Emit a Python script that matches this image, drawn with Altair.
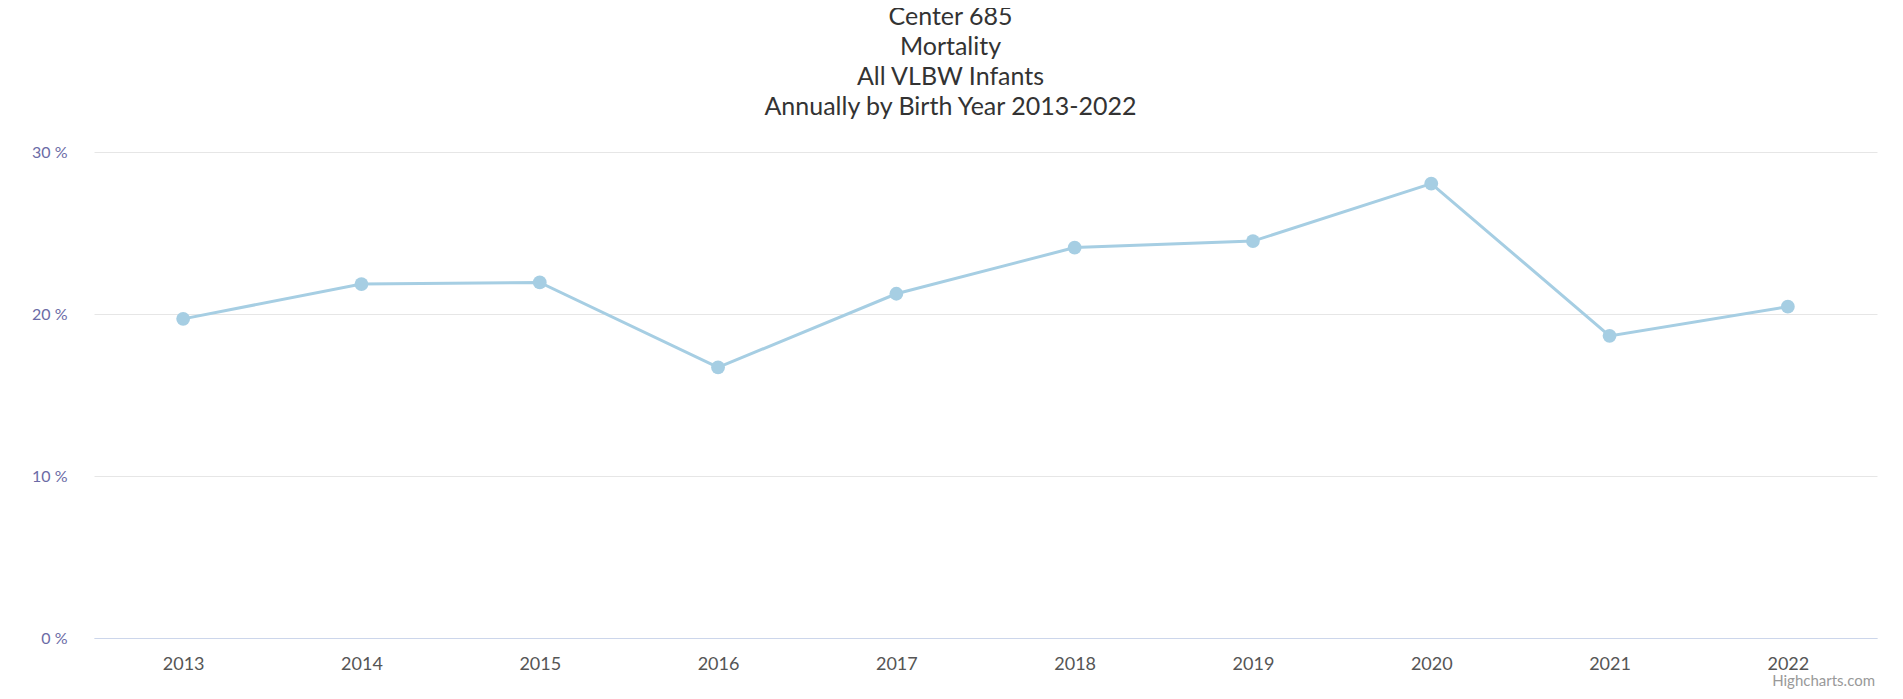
import altair as alt
import pandas as pd

years = ["2013", "2014", "2015", "2016", "2017", "2018", "2019", "2020", "2021", "2022"]
mortality = [19.7, 21.85, 21.95, 16.7, 21.25, 24.1, 24.5, 28.05, 18.65, 20.45]
title_lines = ["Center 685", "Mortality", "All VLBW Infants", "Annually by Birth Year 2013-2022"]
y_ticks = [0, 10, 20, 30]

df = pd.DataFrame({"year": years, "value": mortality})

W, H = 1783, 486
FONT = "Lato"

base = alt.Chart(df)

x_enc = alt.X(
    "year:O",
    title=None,
    sort=years,
    scale=alt.Scale(type="point", padding=0.5),
    axis=alt.Axis(
        labelAngle=0,
        labelFontSize=18,
        labelColor="#555555",
        labelFont=FONT,
        labelPadding=17,
        ticks=False,
        domainColor="#ccd6eb",
        domainWidth=1,
        grid=False,
    ),
)
y_enc = alt.Y(
    "value:Q",
    title=None,
    scale=alt.Scale(domain=[0, 30], nice=False),
    axis=alt.Axis(
        values=y_ticks,
        labelExpr="datum.value + ' %'",
        labelFontSize=16,
        labelColor="#6b6ba6",
        labelFont=FONT,
        labelPadding=27,
        ticks=False,
        domain=False,
        gridColor="#e6e6e6",
        gridWidth=1,
    ),
)

line = base.mark_line(color="#a6cee3", strokeWidth=3).encode(x=x_enc, y=y_enc)
points = base.mark_circle(color="#a6cee3", size=190, opacity=1).encode(x=x_enc, y=y_enc)

credits = alt.Chart(pd.DataFrame({"t": ["Highcharts.com"]})).mark_text(
    align="right", baseline="middle", fontSize=15, color="#999999", font=FONT
).encode(x=alt.value(W - 2), y=alt.value(H + 43), text="t:N")

chart = (
    alt.layer(line, points, credits)
    .properties(
        width=W,
        height=H,
        padding={"left": 86, "top": 144, "right": 10, "bottom": 53},
        autosize=alt.AutoSizeParams(type="none"),
        title=alt.Title(
            text=title_lines,
            font=FONT,
            fontSize=25,
            fontWeight="normal",
            color="#333333",
            anchor="middle",
            lineHeight=30,
            dx=-35,
            offset=24,
        ),
    )
    .configure_view(stroke=None)
)

chart.save("out.html", embed_options={"renderer": "svg", "actions": False})
